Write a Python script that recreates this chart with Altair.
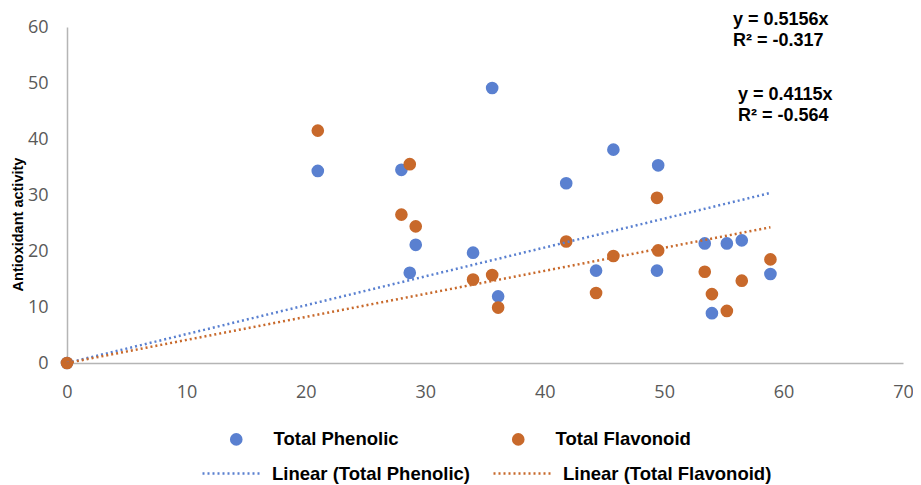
import altair as alt
import pandas as pd

# Shared sample x values
x_vals = [0, 21.0, 28.0, 28.7, 29.2, 34.0, 35.6, 36.1, 41.8, 44.3, 45.75, 49.4, 49.5, 53.4, 54.0, 55.25, 56.5, 58.9]
phenolic = [0, 34.3, 34.5, 16.1, 21.1, 19.7, 49.1, 11.9, 32.1, 16.5, 38.1, 16.5, 35.3, 21.35, 8.9, 21.35, 21.9, 15.9]
flavonoid = [0, 41.5, 26.5, 35.5, 24.4, 14.9, 15.7, 9.9, 21.7, 12.5, 19.1, 29.5, 20.1, 16.3, 12.3, 9.3, 14.7, 18.5]

series_names = ["Total Phenolic", "Total Flavonoid"]
line_names = ["Linear (Total Phenolic)", "Linear (Total Flavonoid)"]
slopes = [0.5156, 0.4115]
r2_labels = ["R² = -0.317", "R² = -0.564"]
colors = ["#5A80D0", "#C8692B"]

x_ticks = [0, 10, 20, 30, 40, 50, 60, 70]
y_ticks = [0, 10, 20, 30, 40, 50, 60]

rows = []
for name, ys in zip(series_names, [phenolic, flavonoid]):
    for xv, yv in zip(x_vals, ys):
        rows.append({"x": xv, "y": yv, "series": name})
points_df = pd.DataFrame(rows)

xmax = max(x_vals)
line_rows = []
for name, s in zip(line_names, slopes):
    for xv in [0, xmax]:
        line_rows.append({"x": xv, "y": s * xv, "line": name})
lines_df = pd.DataFrame(line_rows)

x_enc = alt.X("x:Q", scale=alt.Scale(domain=[0, 70], nice=False),
              axis=alt.Axis(values=x_ticks, title=None, grid=False, ticks=False, labelFlush=False,
                            labelPadding=20, labelFontSize=18, labelFont="Open Sans",
                            labelColor="#595959", domainColor="#B5B5B5", domainWidth=1.5))
y_enc = alt.Y("y:Q", scale=alt.Scale(domain=[0, 60], nice=False),
              axis=alt.Axis(values=y_ticks, title="Antioxidant activity", grid=False, ticks=False,
                            labelFlush=False,
                            labelPadding=19, labelFontSize=18, labelFont="Open Sans",
                            labelColor="#595959", domainColor="#B5B5B5", domainWidth=1.5,
                            titleFont="Liberation Sans", titleFontSize=14.5, titleFontWeight="bold",
                            titleColor="black", titleAngle=270, titleX=-49, titleY=197,
                            titleAlign="center", titleBaseline="middle"))

legend_font = dict(labelFont="Liberation Sans", labelFontSize=18.5, labelFontWeight="bold",
                   labelColor="black", labelLimit=400)

pts = alt.Chart(points_df).mark_circle(size=160, opacity=1).encode(
    x=x_enc, y=y_enc,
    color=alt.Color("series:N", sort=series_names,
                    scale=alt.Scale(domain=series_names, range=colors),
                    legend=alt.Legend(orient="none", legendX=160, legendY=403, direction="horizontal",
                                      title=None, symbolType="circle", symbolSize=160,
                                      labelOffset=28, columnPadding=110, symbolOpacity=1,
                                      **legend_font))
)

lns = alt.Chart(lines_df).mark_line(strokeDash=[2, 3], strokeWidth=2.5).encode(
    x="x:Q", y="y:Q",
    color=alt.Color("line:N", sort=line_names,
                    scale=alt.Scale(domain=line_names, range=colors),
                    legend=alt.Legend(orient="none", legendX=134, legendY=416, direction="horizontal",
                                      title=None, symbolType="stroke", symbolSize=3364,
                                      symbolDash=[2, 3], symbolStrokeWidth=2.5,
                                      labelOffset=10, columnPadding=17, **legend_font))
)

eq_texts = [f"y = {s}x" for s in slopes]
ann_style = dict(font="Liberation Sans", fontSize=18, fontWeight="bold", color="black",
                 align="left", baseline="middle")
t1 = alt.Chart(pd.DataFrame({"t": [eq_texts[0]]})).mark_text(**ann_style).encode(
    text="t:N", x=alt.value(666), y=alt.value(-7.5))
t2 = alt.Chart(pd.DataFrame({"t": [r2_labels[0]]})).mark_text(**ann_style).encode(
    text="t:N", x=alt.value(666), y=alt.value(13.5))
t3 = alt.Chart(pd.DataFrame({"t": [eq_texts[1]]})).mark_text(**ann_style).encode(
    text="t:N", x=alt.value(671), y=alt.value(67.5))
t4 = alt.Chart(pd.DataFrame({"t": [r2_labels[1]]})).mark_text(**ann_style).encode(
    text="t:N", x=alt.value(671), y=alt.value(88.5))

chart = alt.layer(pts, lns, t1, t2, t3, t4).resolve_scale(color="independent").properties(
    width=836, height=336,
    autosize=alt.AutoSizeParams(type="none"),
    padding={"left": 59, "top": 19, "right": 10, "bottom": 122},
).configure_view(stroke=None)

chart.save("out.html", embed_options={"renderer": "svg", "actions": False})
